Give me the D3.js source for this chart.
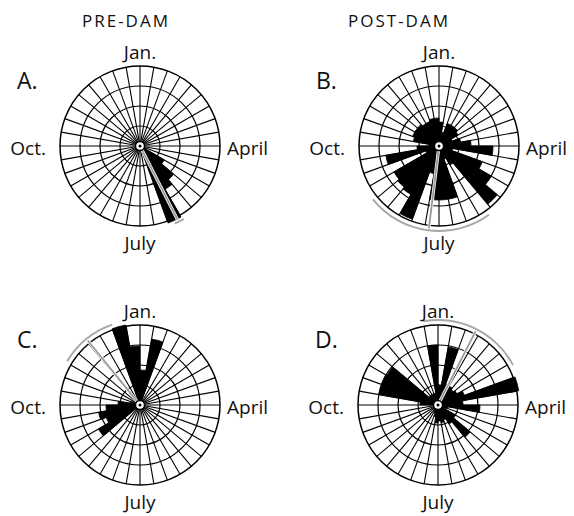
<!DOCTYPE html>
<html><head><meta charset="utf-8">
<script src="https://cdn.jsdelivr.net/npm/d3@7"></script>
<style>
body{margin:0;background:#fff;}
svg text{font-family:"Open Sans","Noto Sans",sans-serif;fill:#111;}
</style></head>
<body><svg id="c" width="574" height="516"></svg>
<script>
// 36 ten-degree bins, starting at Jan. (top), clockwise
const binDeg = 10;
const panelLetters = ["A.", "B.", "C.", "D."];
const columnTitles = ["PRE-DAM", "POST-DAM"];
const monthLabels = ["Jan.", "April", "July", "Oct."];
const ringTicks = [5, 10, 15, 20];

const valuesA = [0,0,0,0,0,0,0,0,0,0,0,1.5,7,11,12.5,20.5,0,0,0,0,0,0,0,0,0,0,0,0,0,0,0,0,0,0,0,0];
const valuesB = [6,3.5,6,6,6,5.5,3.5,5.5,8,13.5,3.5,11.5,15,19,5.5,3.5,13.5,13.5,13.5,7,19.5,14,13.5,13,3.5,13.5,5.5,2.5,6.5,7,7,7,6.5,6.5,7,7];
const valuesC = [8.75,16.75,0,0,0,0,0,0,0,0,0,0,0,0,0,0,0,0,0,0,0,0,0,12,9,10.5,8.5,5.5,2.5,0,0,0,0,0,20.3,14.75];
const valuesD = [5,14.75,5.5,5.5,5,5.5,7,20.5,6.25,10.5,2.5,2,5,10.5,5.5,4,4.5,4,4.5,3,2,1,1,1,1,1,1,4.5,15,15,14.75,3,3,3,3,15];
const meanDirection = [153, 187, 321, 27];
const spreadArc = [[149, 156], [144, 231], [301, 341], [350, 422]];

const series = [valuesA, valuesB, valuesC, valuesD];
const centers = [[140,146],[439,146],[140,405],[438,405]];
const R = 80;
const svg = d3.select("#c");
const rad = d => d * Math.PI / 180;
const r = d3.scaleLinear().domain([0, 20]).range([0, R]);

// column titles
svg.append("text").attr("x",126).attr("y",27).attr("text-anchor","middle")
  .style("font-size","17px").style("letter-spacing","2px").text(columnTitles[0]);
svg.append("text").attr("x",399).attr("y",27).attr("text-anchor","middle")
  .style("font-size","17px").style("letter-spacing","2px").text(columnTitles[1]);

series.forEach((vals, p) => {
  const [cx, cy] = centers[p];
  const g = svg.append("g").attr("transform", `translate(${cx},${cy})`);
  // panel letter
  svg.append("text").attr("x", cx - 123).attr("y", cy - 57)
    .style("font-size","23px").text(panelLetters[p]);
  // month labels
  svg.append("text").attr("x",cx).attr("y",cy-87).attr("text-anchor","middle").style("font-size","19px").text(monthLabels[0]);
  svg.append("text").attr("x",cx+R+7).attr("y",cy+9).attr("text-anchor","start").style("font-size","19px").text(monthLabels[1]);
  svg.append("text").attr("x",cx).attr("y",cy+104).attr("text-anchor","middle").style("font-size","19px").text(monthLabels[2]);
  svg.append("text").attr("x",cx-R-14).attr("y",cy+9).attr("text-anchor","end").style("font-size","19px").text(monthLabels[3]);

  // grid rings
  g.selectAll("circle.ring").data(ringTicks).enter().append("circle")
    .attr("r", d => r(d)).attr("fill","none").attr("stroke","#000")
    .attr("stroke-width", d => d === 20 ? 1.5 : 1.2);
  // spokes
  const spokes = d3.range(0, 360, binDeg);
  g.selectAll("line.spoke").data(spokes).enter().append("line")
    .attr("x1", d => 3 * Math.sin(rad(d))).attr("y1", d => -3 * Math.cos(rad(d)))
    .attr("x2", d => R * Math.sin(rad(d))).attr("y2", d => -R * Math.cos(rad(d)))
    .attr("stroke","#000").attr("stroke-width",1.1);

  // bars
  const arc = d3.arc().innerRadius(0)
    .outerRadius(d => r(d.v))
    .startAngle(d => rad(d.i * binDeg)).endAngle(d => rad((d.i + 1) * binDeg));
  g.selectAll("path.bar").data(vals.map((v, i) => ({v, i})).filter(d => d.v > 0))
    .enter().append("path").attr("d", arc).attr("fill","#000")
    .attr("stroke","#000").attr("stroke-width",0.8).attr("stroke-linejoin","round");

  // spread arc
  const sa = spreadArc[p];
  g.append("path").attr("d", d3.arc().innerRadius(84).outerRadius(86)
      .startAngle(rad(sa[0])).endAngle(rad(sa[1]))())
    .attr("fill","#a8a8a8");

  // mean direction line
  const md = meanDirection[p];
  const line = d3.lineRadial()([[rad(md), 4], [rad(md), 83]]);
  g.append("path").attr("d", line).attr("stroke","#fff").attr("stroke-width",3.2);
  g.append("path").attr("d", line).attr("stroke","#9a9a9a").attr("stroke-width",1.8);

  // center marker
  g.append("circle").attr("r",4.5).attr("fill","#fff").attr("stroke","#000").attr("stroke-width",1.4);
  g.append("circle").attr("r",1.5).attr("fill","#000");
});
</script></body></html>
